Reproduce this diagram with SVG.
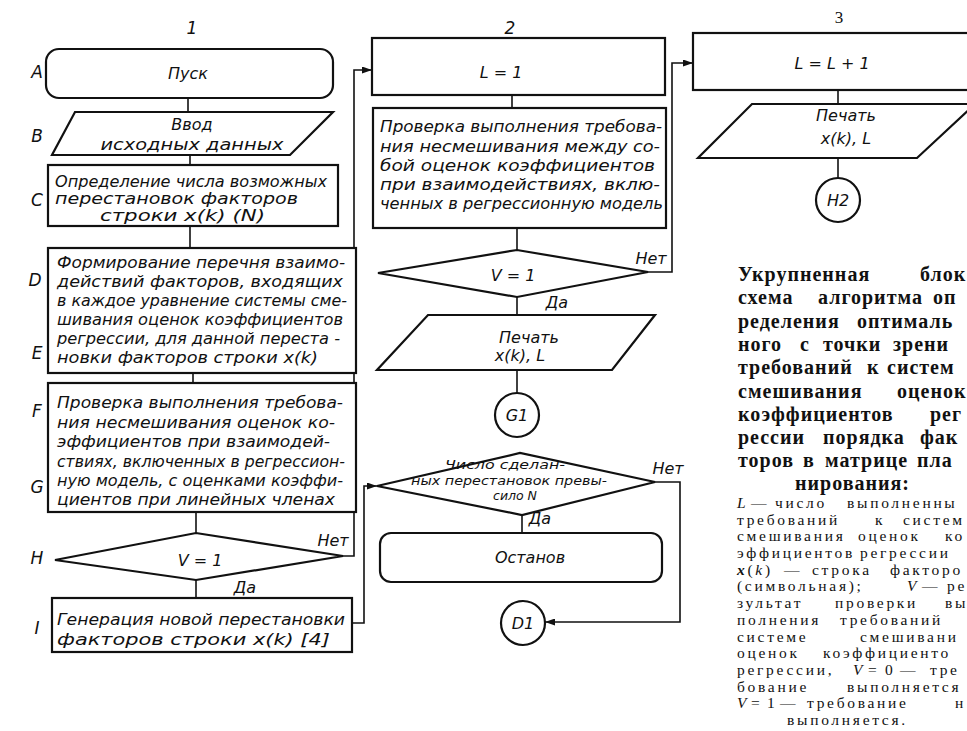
<svg xmlns="http://www.w3.org/2000/svg" width="967" height="731" viewBox="0 0 967 731">
<style>
.box{fill:#fff;stroke:#111;stroke-width:2.2}
.ln{fill:none;stroke:#111;stroke-width:1.6}
.t{font-family:"DejaVu Sans","Liberation Sans",sans-serif;font-style:italic;font-size:16px;fill:#111}
.m{font-size:15px}
.c{text-anchor:middle}
.sm{font-size:12.5px}
.lab{font-family:"DejaVu Sans","Liberation Sans",sans-serif;font-style:italic;font-size:17px;fill:#111;text-anchor:middle}
.hd{font-family:"Liberation Serif",serif;font-weight:bold;font-size:20px;letter-spacing:1px;fill:#111}
.nt{font-family:"Liberation Serif",serif;font-size:15.5px;letter-spacing:2.7px;fill:#111}
.i{font-style:italic}
</style>
<defs>
<marker id="ar" markerWidth="10" markerHeight="7" refX="10" refY="3.5" orient="auto" markerUnits="userSpaceOnUse">
<path d="M0,0 L10,3.5 L0,7 z" fill="#111"/>
</marker>
</defs>
<rect width="967" height="731" fill="#fff"/>

<!-- column numbers and row letters -->
<g id="labels">
<text class="lab" x="192" y="34">1</text>
<text class="lab" x="510" y="34">2</text>
<text x="839" y="23" font-family="Liberation Serif,serif" font-size="17" text-anchor="middle" fill="#111">3</text>
<text class="lab" x="37" y="78">A</text>
<text class="lab" x="37" y="142">B</text>
<text class="lab" x="37" y="206">C</text>
<text class="lab" x="35" y="286">D</text>
<text class="lab" x="37" y="359">E</text>
<text class="lab" x="37" y="417">F</text>
<text class="lab" x="37" y="493">G</text>
<text class="lab" x="37" y="564">H</text>
<text class="lab" x="37" y="634">I</text>
</g>

<!-- connectors -->
<g id="connectors">
<line class="ln" x1="188" y1="98" x2="188" y2="112"/>
<line class="ln" x1="190" y1="155" x2="190" y2="165"/>
<line class="ln" x1="190" y1="226" x2="190" y2="248"/>
<line class="ln" x1="193" y1="373" x2="193" y2="383"/>
<line class="ln" x1="196" y1="512" x2="196" y2="533"/>
<line class="ln" x1="196" y1="580" x2="196" y2="598"/>
<polyline class="ln" points="343,556 354,556 354,70 372,70" marker-end="url(#ar)"/>
<polyline class="ln" points="352,623 364,623 364,486 377,486" marker-end="url(#ar)"/>
<line class="ln" x1="512" y1="95" x2="512" y2="108"/>
<line class="ln" x1="517" y1="228" x2="517" y2="250"/>
<polyline class="ln" points="648,272 672,272 672,63 693,63" marker-end="url(#ar)"/>
<line class="ln" x1="517" y1="297" x2="517" y2="315"/>
<line class="ln" x1="517" y1="370" x2="517" y2="393"/>
<line class="ln" x1="522" y1="515" x2="522" y2="533"/>
<polyline class="ln" points="655,482 680,482 680,622 545,622" marker-end="url(#ar)"/>
<line class="ln" x1="838" y1="90" x2="838" y2="104"/>
<line class="ln" x1="838" y1="158" x2="838" y2="180"/>
<text class="t" x="333" y="546" text-anchor="middle">Нет</text>
<text class="t" x="245" y="593" text-anchor="middle">Да</text>
<text class="t" x="651" y="264" text-anchor="middle">Нет</text>
<text class="t" x="557" y="308" text-anchor="middle">Да</text>
<text class="t" x="668" y="474" text-anchor="middle">Нет</text>
<text class="t" x="540" y="524" text-anchor="middle">Да</text>
</g>

<!-- column 1 -->
<g id="A">
<rect class="box" x="46" y="49" width="287" height="49" rx="13"/>
<text class="t c" x="188" y="79" font-size="19">Пуск</text>
</g>
<g id="B">
<polygon class="box" points="75,112 333,112 290,155 52,155"/>
<text class="t c" x="192" y="130">Ввод</text>
<text class="t c" x="192" y="150" textLength="183" lengthAdjust="spacingAndGlyphs">исходных данных</text>
</g>
<g id="C">
<rect class="box" x="48" y="165" width="290" height="61"/>
<text class="t m" x="55" y="187" textLength="272" lengthAdjust="spacingAndGlyphs">Определение числа возможных</text>
<text class="t m" x="55" y="204" textLength="243" lengthAdjust="spacingAndGlyphs">перестановок факторов</text>
<text class="t m" x="100" y="221" textLength="165" lengthAdjust="spacingAndGlyphs">строки x(k) (N)</text>
</g>
<g id="D">
<rect class="box" x="48" y="248" width="308" height="125"/>
<text class="t" x="57" y="268" textLength="288" lengthAdjust="spacingAndGlyphs">Формирование перечня взаимо-</text>
<text class="t" x="57" y="287" textLength="286" lengthAdjust="spacingAndGlyphs">действий факторов, входящих</text>
<text class="t" x="57" y="306" textLength="290" lengthAdjust="spacingAndGlyphs">в каждое уравнение системы сме-</text>
<text class="t" x="57" y="325" textLength="286" lengthAdjust="spacingAndGlyphs">шивания оценок коэффициентов</text>
<text class="t" x="57" y="344" textLength="283" lengthAdjust="spacingAndGlyphs">регрессии, для данной переста -</text>
<text class="t" x="57" y="363" textLength="261" lengthAdjust="spacingAndGlyphs">новки факторов строки x(k)</text>
</g>
<g id="F">
<rect class="box" x="48" y="383" width="308" height="129"/>
<text class="t" x="57" y="408" textLength="286" lengthAdjust="spacingAndGlyphs">Проверка выполнения требова-</text>
<text class="t" x="57" y="428" textLength="278" lengthAdjust="spacingAndGlyphs">ния несмешивания оценок ко-</text>
<text class="t" x="57" y="447" textLength="273" lengthAdjust="spacingAndGlyphs">эффициентов при взаимодей-</text>
<text class="t" x="57" y="467" textLength="288" lengthAdjust="spacingAndGlyphs">ствиях, включенных в регрессион-</text>
<text class="t" x="57" y="486" textLength="286" lengthAdjust="spacingAndGlyphs">ную модель, с оценками коэффи-</text>
<text class="t" x="57" y="505" textLength="278" lengthAdjust="spacingAndGlyphs">циентов при линейных членах</text>
</g>
<g id="H">
<polygon class="box" points="55,560 196,533 343,556 196,580"/>
<text class="t c" x="200" y="566">V = 1</text>
</g>
<g id="I">
<rect class="box" x="52" y="598" width="300" height="54"/>
<text class="t" x="57" y="625" textLength="288" lengthAdjust="spacingAndGlyphs">Генерация новой перестановки</text>
<text class="t" x="57" y="645" textLength="273" lengthAdjust="spacingAndGlyphs">факторов строки x(k)  [4]</text>
</g>

<!-- column 2 -->
<g id="A2">
<rect class="box" x="372" y="38" width="293" height="57"/>
<text class="t c" x="501" y="78">L = 1</text>
</g>
<g id="B2">
<rect class="box" x="373" y="108" width="293" height="120"/>
<text class="t" x="380" y="132" textLength="282" lengthAdjust="spacingAndGlyphs">Проверка выполнения требова-</text>
<text class="t" x="380" y="152" textLength="280" lengthAdjust="spacingAndGlyphs">ния несмешивания между со-</text>
<text class="t" x="380" y="171" textLength="275" lengthAdjust="spacingAndGlyphs">бой оценок коэффициентов</text>
<text class="t" x="380" y="190" textLength="280" lengthAdjust="spacingAndGlyphs">при взаимодействиях, вклю-</text>
<text class="t" x="380" y="209" textLength="283" lengthAdjust="spacingAndGlyphs">ченных в регрессионную модель</text>
</g>
<g id="C2">
<polygon class="box" points="378,273 517,250 648,272 517,297"/>
<text class="t c" x="513" y="281">V = 1</text>
</g>
<g id="D2">
<polygon class="box" points="428,315 655,315 612,370 377,370"/>
<text class="t c" x="529" y="343">Печать</text>
<text class="t c" x="520" y="361">x(k),  L</text>
</g>
<g id="E2">
<circle class="box" cx="517" cy="415" r="22"/>
<text class="t c" x="517" y="421">G1</text>
</g>
<g id="G2">
<polygon class="box" points="377,486 520,453 655,482 522,515"/>
<text class="t c sm" x="505" y="469" textLength="120" lengthAdjust="spacingAndGlyphs">Число сделан-</text>
<text class="t c sm" x="509" y="485" textLength="196" lengthAdjust="spacingAndGlyphs">ных перестановок превы-</text>
<text class="t c sm" x="515" y="500">сило N</text>
</g>
<g id="H2n">
<rect class="box" x="380" y="533" width="282" height="49" rx="11"/>
<text class="t c" x="530" y="563">Останов</text>
</g>
<g id="I2">
<circle class="box" cx="523" cy="623" r="22"/>
<text class="t c" x="523" y="629">D1</text>
</g>

<!-- column 3 -->
<g id="A3">
<rect class="box" x="693" y="33" width="290" height="57"/>
<text class="t c" x="832" y="69" font-size="15">L = L + 1</text>
</g>
<g id="B3">
<polygon class="box" points="752,104 975,104 917,158 698,158"/>
<text class="t c" x="846" y="121">Печать</text>
<text class="t c" x="846" y="144">x(k), L</text>
</g>
<g id="C3">
<circle class="box" cx="838" cy="200" r="22"/>
<text class="t c" x="838" y="206">H2</text>
</g>

<!-- caption heading -->
<g id="caption-title" class="hd">
<text y="281"><tspan x="738">Укрупненная</tspan><tspan x="920">блок</tspan></text>
<text y="304"><tspan x="738">схема</tspan><tspan x="818">алгоритма</tspan><tspan x="933">оп</tspan></text>
<text y="328"><tspan x="738">ределения</tspan><tspan x="857">оптималь</tspan></text>
<text y="351"><tspan x="738">ного</tspan><tspan x="800">с</tspan><tspan x="823">точки</tspan><tspan x="893">зрени</tspan></text>
<text y="374"><tspan x="738">требований</tspan><tspan x="867">к</tspan><tspan x="887">систем</tspan></text>
<text y="398"><tspan x="738">смешивания</tspan><tspan x="897">оценок</tspan></text>
<text y="421"><tspan x="738">коэффициентов</tspan><tspan x="930">рег</tspan></text>
<text y="444"><tspan x="738">рессии</tspan><tspan x="823">порядка</tspan><tspan x="920">фак</tspan></text>
<text y="467"><tspan x="738">торов</tspan><tspan x="803">в</tspan><tspan x="825">матрице</tspan><tspan x="917">пла</tspan></text>
<text y="490" x="795">нирования:</text>
</g>

<!-- caption notes -->
<g id="caption-notes" class="nt">
<text y="508"><tspan x="737" class="i">L</tspan><tspan x="751">—</tspan><tspan x="775">число</tspan><tspan x="847">выполненны</tspan></text>
<text y="525"><tspan x="737">требований</tspan><tspan x="875">к</tspan><tspan x="903">систем</tspan></text>
<text y="541"><tspan x="737">смешивания</tspan><tspan x="858">оценок</tspan><tspan x="945">ко</tspan></text>
<text y="558"><tspan x="737">эффициентов</tspan><tspan x="860">регрессии</tspan></text>
<text y="575"><tspan x="737" class="i" font-weight="bold">x</tspan>(<tspan class="i">k</tspan>)<tspan x="784">—</tspan><tspan x="812">строка</tspan><tspan x="890">факторо</tspan></text>
<text y="591"><tspan x="737">(символьная);</tspan><tspan x="907" class="i">V</tspan><tspan x="922">—</tspan><tspan x="947">ре</tspan></text>
<text y="608"><tspan x="737">зультат</tspan><tspan x="835">проверки</tspan><tspan x="945">вы</tspan></text>
<text y="625"><tspan x="737">полнения</tspan><tspan x="840">требований</tspan></text>
<text y="642"><tspan x="737">системе</tspan><tspan x="860">смешивани</tspan></text>
<text y="658"><tspan x="737">оценок</tspan><tspan x="823">коэффициенто</tspan></text>
<text y="675"><tspan x="737">регрессии,</tspan><tspan x="853" class="i">V</tspan><tspan x="868">=</tspan><tspan x="885">0</tspan><tspan x="900">—</tspan><tspan x="930">тре</tspan></text>
<text y="692"><tspan x="737">бование</tspan><tspan x="847">выполняется</tspan></text>
<text y="708"><tspan x="737" class="i">V</tspan><tspan x="751">=</tspan><tspan x="767">1</tspan><tspan x="780">—</tspan><tspan x="807">требование</tspan><tspan x="955">н</tspan></text>
<text y="725" x="787">выполняется.</text>
</g>
</svg>
